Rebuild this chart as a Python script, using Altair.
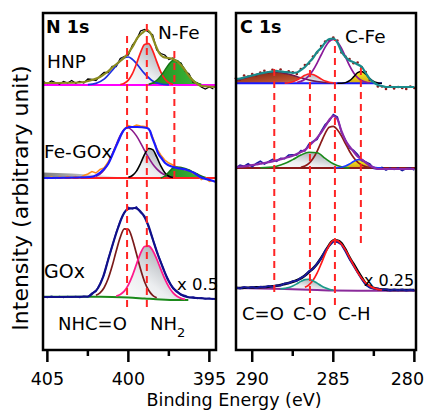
import altair as alt
import pandas as pd

FONT = "DejaVu Sans"

# ---------------- N 1s panel (binding energy, eV) ----------------
N_E = [405.25, 405.0, 404.75, 404.5, 404.25, 404.0, 403.75, 403.5, 403.25, 403.0, 402.75,
       402.5, 402.25, 402.0, 401.75, 401.5, 401.25, 401.0, 400.75, 400.5, 400.25, 400.0,
       399.75, 399.5, 399.25, 399.0, 398.75, 398.5, 398.25, 398.0, 397.75, 397.5, 397.25,
       397.0, 396.75, 396.5, 396.25, 396.0, 395.75, 395.5, 395.25, 395.0, 394.75]
N_TICKS = [405, 400, 395]
N_MINOR = [402.5, 397.5]
N_EDGE = [405.27, 394.59]

# HNP
N_HNP_DATA = [268.5, 266.5, 269, 267.5, 266, 268.5, 267, 269.5, 266.8, 268.5, 267, 271, 270.5,
              269.5, 274, 277.5, 277.5, 283.5, 283.5, 291.5, 293.5, 295, 305, 310, 319, 320.5,
              318, 315, 300, 296.5, 295, 290.5, 292, 288, 287, 279, 276, 267.5, 267, 263, 261,
              263, 261]
N_HNP_FIT_E = [405.27, 403.0, 402.35, 401.75, 401.3, 400.95, 400.5, 400.1, 399.75, 399.45,
               399.15, 398.85, 398.6, 398.35, 398.1, 397.85, 397.55, 397.25, 396.95, 396.6,
               396.3, 396.05, 395.75, 395.45, 394.59]
N_HNP_FIT = [267, 267.5, 269.5, 273, 278, 283, 289, 295, 303, 312, 317, 320, 316, 306, 297,
             293, 292, 291, 288, 282, 275, 270, 266, 264, 263]
N_HNP_BASE = [265, 265]
N_HNP_P1_E = [402.5, 402.0, 401.5, 401.0, 400.5, 400.25, 400.0, 399.75, 399.5, 399.0, 398.5,
              398.0, 397.5]
N_HNP_P1 = [265.3, 266.6, 270.8, 279.5, 289.4, 292.4, 293.0, 290.7, 286.5, 276.3, 269.0,
            266.0, 265.2]
N_HNP_P2_E = [400.5, 400.25, 400.0, 399.75, 399.5, 399.25, 399.0, 398.75, 398.5, 398.25,
              398.0, 397.75, 397.5, 397.25]
N_HNP_P2 = [265.5, 266.8, 269.9, 276.3, 286.2, 297.4, 305.5, 306.3, 299.4, 288.4, 278.1,
            270.9, 267.2, 265.7]
N_HNP_P3_E = [398.75, 398.5, 398.25, 398.0, 397.75, 397.5, 397.25, 397.0, 396.75, 396.5,
              396.25, 396.0, 395.75, 395.5]
N_HNP_P3 = [265.8, 267, 269.7, 274.1, 279.8, 285.7, 289.5, 289.5, 285.9, 280.1, 274.3, 269.8,
            267.1, 265.8]

# Fe-GOx
N_FE_DATA = [172.5, 171.5, 173, 171.5, 173, 172, 173.5, 172, 173.5, 172, 174.5, 176, 178.5,
             177, 180.5, 182, 188, 196, 205, 213, 221, 224.5, 223, 225, 224, 223.5, 221.5,
             213, 201.5, 195, 190, 187, 185, 182.5, 182.5, 180, 180, 176.5, 176, 170.5, 172.5,
             168.5, 169.5]
N_FE_FIT_E = [405.27, 402.36, 401.56, 401.25, 400.94, 400.64, 400.39, 400.02, 399.46, 398.85,
              398.66, 398.54, 398.35, 398.17, 397.92, 397.73, 397.24, 396.81, 396.38, 395.94,
              395.57, 394.96, 394.59]
N_FE_FIT = [172, 173, 180, 186, 197, 208, 217, 223, 223, 222, 219, 213, 205, 197, 191, 187,
            183, 181.5, 180, 177, 173, 170, 168]
N_FE_BASE = [172, 172]
N_FE_P1_E = [402.0, 401.75, 401.5, 401.25, 401.0, 400.75, 400.5, 400.25, 400.0, 399.75, 399.5,
             399.25, 399.0, 398.75, 398.5, 398.25, 398.0, 397.75, 397.5, 397.25]
N_FE_P1 = [173.7, 175.9, 179.9, 186.3, 195.1, 205.2, 214.6, 220.7, 222, 219.3, 214.1, 207.2,
           199.6, 192.3, 186, 181.1, 177.5, 175.1, 173.7, 172.8]
N_FE_P2_E = [400.0, 399.75, 399.5, 399.25, 399.0, 398.75, 398.5, 398.25, 398.0, 397.75, 397.5,
             397.25]
N_FE_P2 = [172.7, 174.5, 178.9, 186.5, 195.6, 201.5, 200.4, 193.1, 184.1, 177.3, 173.8, 172.5]
N_FE_P3_E = [398.0, 397.75, 397.5, 397.25, 397.0, 396.75, 396.5, 396.25, 396.0, 395.75, 395.5,
             395.25]
N_FE_P3 = [172, 174, 178, 182, 183, 182.5, 181.5, 180, 178, 176, 174, 172.5]
N_FE_TAIL_E = [405.27, 403.5, 402.0, 400.9, 400.2]
N_FE_TAIL = [177.5, 176.5, 175, 173.5, 172]

# GOx
N_GO_DATA = [53.5, 52.5, 53.8, 52.7, 53.5, 52.5, 53.6, 52.8, 53.5, 52.6, 53.8, 53, 56.8, 58.5,
             66.5, 75.5, 90.8, 103.5, 117.5, 129, 137.5, 142.5, 141, 143, 137.5, 134, 123,
             111.5, 98.5, 88.5, 77.5, 69.5, 61.5, 59, 55, 54.5, 52.5, 53, 51.5, 52.3, 51, 51.8,
             50.6]
N_GO_FIT_E = [405.27, 402.49, 402.18, 401.87, 401.56, 401.25, 400.94, 400.64, 400.33, 400.02,
              399.59, 399.28, 398.97, 398.78, 398.48, 398.17, 397.86, 397.55, 397.24, 396.81,
              396.38, 395.76, 394.59]
N_GO_FIT = [53, 53.5, 57, 62, 73, 90, 107, 122, 135, 141, 142, 139, 132, 125, 110, 95, 82, 70,
            62, 56, 53, 52, 51]
N_GO_BASE_E = [405.27, 402.0, 401.0, 400.0, 399.0, 398.0, 397.0, 396.3]
N_GO_BASE = [53.3, 53.2, 53.0, 52.5, 51.5, 50.5, 50.0, 50.0]
N_GO_P1_E = [402.0, 401.75, 401.5, 401.25, 401.0, 400.75, 400.5, 400.25, 400.0, 399.75, 399.5,
             399.25, 399.0, 398.75, 398.5, 398.25]
N_GO_P1 = [54.7, 57.2, 62.3, 71.2, 83.9, 99, 112.8, 121.2, 120.6, 110.8, 96.2, 81, 68.3, 59.7,
           54.7, 52.3]
N_GO_P2_E = [400.75, 400.5, 400.25, 400.0, 399.75, 399.5, 399.25, 399.0, 398.75, 398.5, 398.25,
             398.0, 397.75, 397.5, 397.25, 397.0, 396.75, 396.5]
N_GO_P2 = [54.0, 55.6, 58.9, 65.2, 74.4, 85.7, 96.6, 103.5, 104.0, 99.5, 91.0, 80.8, 71.1,
           63.1, 57.3, 53.7, 51.7, 50.7]
N_GO_P2_BASE = [52.9, 52.75, 52.6, 52.5, 52.25, 52.0, 51.75, 51.5, 51.25, 51.0, 50.75, 50.5,
                50.4, 50.25, 50.1, 50.0, 50.0, 50.0]

N_DASH_E = [400.08, 398.86, 397.16]
N_DASH_LO = [43, 43, 172]
N_DASH_HI = [317, 327, 303]

# ---------------- C 1s panel ----------------
C_E = [291.0, 290.75, 290.5, 290.25, 290.0, 289.75, 289.5, 289.25, 289.0, 288.75, 288.5,
       288.25, 288.0, 287.75, 287.5, 287.25, 287.0, 286.75, 286.5, 286.25, 286.0, 285.75,
       285.5, 285.25, 285.0, 284.75, 284.5, 284.25, 284.0, 283.75, 283.5, 283.25, 283.0,
       282.75, 282.5, 282.25, 282.0, 281.75, 281.5, 281.25, 281.0, 280.75, 280.5, 280.25, 280.0]
C_TICKS = [290, 285, 280]
C_MINOR = [287.5, 282.5]
C_EDGE = [291.0, 279.9]

# HNP
C_HNP_DATA = [271.8, 270.5, 274.5, 273.5, 276, 274.5, 277.5, 279.3, 277.5, 280.2, 279, 280.5,
              277, 278.7, 277.7, 276, 281, 285, 286.5, 293.5, 297.5, 304, 308.5, 309.5, 312.5,
              309.5, 297.5, 293.5, 291, 286.8, 287.5, 282.7, 278, 270, 268, 263.5, 263.5, 261,
              264, 261.5, 263, 262, 261, 263.5, 262]
C_HNP_FIT = [270.8, 271.5, 272.5, 273.5, 274.5, 275.5, 276.5, 277.3, 278, 278.7, 279, 278.5,
             278, 277.7, 277.2, 277.5, 280, 283, 287.5, 292, 298, 302, 307.5, 311, 311.5, 307.5,
             298.5, 293, 289.5, 287.8, 285.5, 283.2, 277, 271, 267.5, 265, 264, 263, 263, 263,
             263, 263, 263, 263, 263]
C_HNP_BASE_E = [291.0, 282.0]
C_HNP_BASE = [266.7, 266.7]
C_HNP_CO2_E = [291.0, 290.5, 290.0, 289.5, 289.0, 288.5, 288.0, 287.5, 287.0, 286.5, 286.0,
               285.5, 285.0]
C_HNP_CO2 = [269.7, 271.7, 274.2, 276.4, 277.7, 277.9, 276.7, 274.7, 272.2, 270.0, 268.4,
             267.4, 266.9]
C_HNP_CO_E = [288.0, 287.75, 287.5, 287.25, 287.0, 286.75, 286.5, 286.25, 286.0, 285.75, 285.5,
              285.25, 285.0]
C_HNP_CO = [266.9, 267.3, 268.2, 269.9, 272.3, 274.7, 276, 275.5, 273.5, 271, 268.9, 267.7,
            267.1]
C_HNP_CH_E = [287.25, 287.0, 286.75, 286.5, 286.25, 286.0, 285.75, 285.5, 285.25, 285.0,
              284.75, 284.5, 284.25, 284.0, 283.75, 283.5, 283.25, 283.0, 282.75]
C_HNP_CH = [267.5, 268.6, 270.7, 274.3, 279.7, 286.9, 295, 302.9, 308.6, 310.7, 308.3, 301.8,
            293.1, 284.4, 277.3, 272.4, 269.4, 267.9, 267.1]
C_HNP_FE_E = [284.75, 284.5, 284.25, 284.0, 283.75, 283.5, 283.25, 283.0, 282.75, 282.5,
              282.25, 282.0]
C_HNP_FE = [266.7, 266.8, 267.4, 269.3, 273.1, 277.3, 278.6, 275.8, 271.4, 268.3, 267.1, 266.7]

# Fe-GOx
C_FE_DATA = [182, 184.8, 183.7, 186.2, 183.3, 186.5, 188.8, 186, 188.3, 190.6, 188.6, 191.7,
             191.3, 195, 195.3, 195, 199.5, 199, 206, 208.5, 210.5, 218.5, 225.5, 229, 235.5,
             233, 218, 210, 202, 199.5, 195.5, 189.5, 188, 186, 181.5, 181, 182.5, 180, 182,
             180.5, 182, 179.5, 181.5, 182, 180]
C_FE_FIT = [183, 183.3, 183.7, 184.2, 184.8, 185.5, 186.3, 187, 187.8, 188.6, 189.6, 190.7,
            191.8, 193, 194.3, 196, 198, 200, 204, 208, 212, 217.5, 223.5, 230, 234, 231, 219,
            209.5, 203.5, 198.5, 193.5, 190.5, 187.5, 184.5, 182.5, 181, 181, 181, 181, 181,
            181, 181, 181, 181, 181]
C_FE_BASE = [182, 182]
C_FE_CH_E = [287.0, 286.75, 286.5, 286.25, 286.0, 285.75, 285.5, 285.25, 285.0, 284.75, 284.5,
             284.25, 284.0, 283.75, 283.5, 283.25, 283.0, 282.75]
C_FE_CH = [182.7, 184, 186.7, 191.5, 198.7, 207.8, 216.7, 222.7, 223.7, 220.3, 214.1, 206.4,
           198.8, 192.5, 187.9, 185, 183.4, 182.6]
C_FE_CO_E = [289.5, 289.0, 288.5, 288.0, 287.5, 287.0, 286.5, 286.0, 285.5, 285.0, 284.5,
             284.25, 284.0]
C_FE_CO = [182.2, 182.6, 183.8, 186.4, 190.4, 194.9, 197.7, 197.3, 191.6, 186.2, 183.2, 182.4,
           182]
C_FE_FE_E = [285.0, 284.75, 284.5, 284.25, 284.0, 283.75, 283.5, 283.25, 283.0, 282.75, 282.5,
             282.25, 282.0]
C_FE_FE = [182, 182.2, 182.8, 183.9, 186, 188.5, 190.3, 190.4, 187.6, 184.3, 182.6, 182.1, 182]

# GOx
C_GO_DATA = [62.5, 61.5, 62.9, 62, 62.9, 62.1, 63.3, 62.8, 63.9, 63.2, 64.5, 64.6, 66.6, 66.7,
             68.8, 69.3, 72.1, 74.2, 78.6, 81.1, 86.5, 91.5, 99.1, 104.2, 108.5, 108, 105.5,
             98.7, 91, 84.2, 77.5, 71, 65.3, 62.5, 61.2, 61.5, 60, 60.7, 59.6, 60.5, 59.7, 60.4,
             59.5, 60.3, 59.6]
C_GO_FIT = [62, 62, 62.2, 62.3, 62.5, 62.7, 62.8, 63, 63.3, 63.7, 64.2, 65, 66, 67, 68.3, 69.8,
            71.7, 74.5, 78, 81.5, 86, 92, 98.5, 105, 109.5, 109.5, 107, 100.5, 92.5, 86, 79,
            72.5, 66.5, 63.5, 62, 61, 60.5, 60.3, 60, 60, 60, 60, 60, 60, 60]
C_GO_BASE_E = [291.0, 288.0, 286.0, 285.0, 283.5, 279.9]
C_GO_BASE = [62, 61, 60, 59.5, 59.3, 59.3]
C_GO_CH_E = [286.75, 286.5, 286.25, 286.0, 285.75, 285.5, 285.25, 285.0, 284.75, 284.5, 284.25,
             284.0, 283.75, 283.5, 283.25, 283.0, 282.75, 282.5, 282.25, 282.0]
C_GO_CH = [62.7, 65.15, 69.7, 76.8, 86.1, 96.2, 104.8, 109.5, 109.35, 105.9, 100.1, 92.65,
           84.9, 77.8, 71.8, 67.2, 64, 61.9, 60.7, 60]
C_GO_CO_E = [288.25, 288.0, 287.75, 287.5, 287.25, 287.0, 286.75, 286.5, 286.25, 286.0, 285.75,
             285.5, 285.25, 285.0]
C_GO_CO = [61.1, 61.6, 62.4, 64.05, 66.2, 68.6, 70.4, 70.75, 69.3, 66.9, 64.3, 62.2, 60.7, 59.9]
C_GO_CO_BASE = [60.9, 60.9, 60.8, 60.75, 60.6, 60.5, 60.4, 60.25, 60.1, 60.0, 59.9, 59.8, 59.6,
                59.5]

C_DASH_E = [288.64, 286.44, 284.9, 283.3]
C_DASH_LO = [58, 45, 45, 107]
C_DASH_HI = [285, 283, 310, 287]

# ---------------- styling helpers ----------------
YS = alt.Scale(domain=[0, 337], nice=False, zero=False)
LX = alt.Scale(domain=[405.27, 394.59], range=[0, 173], nice=False, zero=False)
RX = alt.Scale(domain=[291.0, 279.9], range=[193, 373], nice=False, zero=False)
ONE = pd.DataFrame({"k": [0]})


def stop(c, o):
    return alt.GradientStop(color=c, offset=o)


GREY = alt.LinearGradient(gradient="linear", stops=[stop("#8a9098", 0), stop("#eceef0", 0.6),
                                                    stop("#ffffff", 1)], x1=1, y1=0, x2=0, y2=1)
GREEN = alt.LinearGradient(gradient="linear", stops=[stop("#1e8c1e", 0), stop("#3cba3c", 1)],
                           x1=0, y1=0, x2=1, y2=0)
YELLOW = alt.LinearGradient(gradient="linear", stops=[stop("#f8f020", 0), stop("#d4a814", 1)],
                            x1=0, y1=0, x2=0, y2=1)
BROWN = alt.LinearGradient(gradient="linear", stops=[stop("#7a1e10", 0), stop("#b8502c", 0.6),
                                                     stop("#dc9c78", 1)], x1=0, y1=0, x2=1, y2=1)
WEDGE = alt.LinearGradient(gradient="linear", stops=[stop("#7c7c7c", 0), stop("#ffffff", 1)],
                           x1=0, y1=0, x2=1, y2=0)


def xenc(sx):
    return alt.X("E:Q", scale=sx, axis=None)


def line(E, h, color, w, sx, interp="monotone"):
    df = pd.DataFrame({"E": E, "h": h})
    return alt.Chart(df).mark_line(color=color, strokeWidth=w, interpolate=interp).encode(
        x=xenc(sx), y=alt.Y("h:Q", scale=YS, axis=None))


def area(E, top, bottom, fill, sx):
    df = pd.DataFrame({"E": E, "top": top, "bot": bottom})
    return alt.Chart(df).mark_area(color=fill, interpolate="monotone", opacity=1).encode(
        x=xenc(sx), y=alt.Y("top:Q", scale=YS, axis=None), y2="bot:Q")


def dots(E, h, color, sx):
    df = pd.DataFrame({"E": E, "h": h})
    return alt.Chart(df).mark_circle(color=color, size=7, opacity=1).encode(
        x=xenc(sx), y=alt.Y("h:Q", scale=YS, axis=None))


def dashes(E, lo, hi, sx):
    df = pd.DataFrame({"E": E, "lo": lo, "hi": hi})
    return alt.Chart(df).mark_rule(color="#ff2424", strokeWidth=2, strokeDash=[7, 5]).encode(
        x=xenc(sx), y=alt.Y("lo:Q", scale=YS, axis=None), y2="hi:Q")


def txt(s, x, y, size=18, weight="normal", align="left", angle=0, baseline="alphabetic"):
    return alt.Chart(ONE).mark_text(text=s, align=align, baseline=baseline, font=FONT,
                                    fontSize=size, fontWeight=weight, color="black",
                                    angle=angle).encode(x=alt.value(x), y=alt.value(y))


def frame(x0, x1):
    return alt.Chart(ONE).mark_rect(fillOpacity=0, stroke="black", strokeWidth=2.5).encode(
        x=alt.value(x0), x2=alt.value(x1), y=alt.value(0), y2=alt.value(337))


def ticks(vals, sx, length):
    df = pd.DataFrame({"E": vals})
    return alt.Chart(df).mark_rule(color="black", strokeWidth=2.5).encode(
        x=xenc(sx), y=alt.value(337), y2=alt.value(337 + length))


def tick_labels(vals, sx, dx=0):
    df = pd.DataFrame({"E": vals, "lab": [str(v) for v in vals]})
    return alt.Chart(df).mark_text(font=FONT, fontSize=17.5, color="black", align="center",
                                   baseline="alphabetic", dx=dx).encode(
        x=xenc(sx), y=alt.value(372), text="lab:N")


n = len
left = [
    # HNP
    area(N_HNP_P2_E, N_HNP_P2, [265] * n(N_HNP_P2), GREY, LX),
    area(N_HNP_P3_E, N_HNP_P3, [265] * n(N_HNP_P3), GREEN, LX),
    line(N_EDGE, N_HNP_BASE, "#ff00ff", 2, LX),
    line(N_E, N_HNP_DATA, "black", 1.3, LX, interp="linear"),
    line(N_HNP_P1_E, N_HNP_P1, "#1f2fe0", 1.7, LX),
    line(N_HNP_P2_E, N_HNP_P2, "#ff1f1f", 1.7, LX),
    line(N_HNP_P3_E, N_HNP_P3, "#137313", 1.4, LX),
    line(N_HNP_FIT_E, N_HNP_FIT, "#8c8c1e", 2.2, LX),
    # Fe-GOx
    area(N_FE_TAIL_E, N_FE_TAIL, [172] * n(N_FE_TAIL), WEDGE, LX),
    area(N_FE_P2_E, N_FE_P2, [172] * n(N_FE_P2), GREY, LX),
    area(N_FE_P3_E, N_FE_P3, [172] * n(N_FE_P3), GREEN, LX),
    line(N_EDGE, N_FE_BASE, "#ff2020", 2, LX),
    line(N_E, N_FE_DATA, "#ff8c1a", 1.5, LX, interp="linear"),
    line(N_FE_P1_E, N_FE_P1, "#8b1a8b", 1.6, LX),
    line(N_FE_P2_E, N_FE_P2, "black", 1.6, LX),
    line(N_FE_P3_E, N_FE_P3, "#137313", 1.4, LX),
    line(N_FE_FIT_E, N_FE_FIT, "#1a1aff", 2.2, LX),
    # GOx
    area(N_GO_P2_E, N_GO_P2, N_GO_P2_BASE, GREY, LX),
    line(N_GO_BASE_E, N_GO_BASE, "#1a8a1a", 2, LX),
    line(N_E, N_GO_DATA, "#2020a0", 1.5, LX, interp="linear"),
    line(N_GO_P1_E, N_GO_P1, "#7a1a1a", 1.7, LX),
    line(N_GO_P2_E, N_GO_P2, "#ff1a8c", 1.8, LX),
    line(N_GO_FIT_E, N_GO_FIT, "#10108a", 2.2, LX),
    dashes(N_DASH_E, N_DASH_LO, N_DASH_HI, LX),
    frame(0, 173),
    ticks(N_TICKS, LX, 12),
    ticks(N_MINOR, LX, 6),
    tick_labels(N_TICKS, LX),
    txt("N 1s", 3, 20, 17.5, "bold"),
    txt("HNP", 4, 55, 18.5),
    txt("N-Fe", 115, 26, 18.5),
    txt("Fe-GOx", 1, 145, 18.5),
    txt("GOx", 1, 265, 19),
    txt("x 0.5", 134, 277, 16.5),
    txt("NHC=O", 15, 317, 18),
    txt("NH", 107, 317, 18),
    txt("2", 134, 324, 13),
    txt("Intensity (arbitrary unit)", -22, 185, 22, align="center", angle=270,
        baseline="middle"),
]

right = [
    # HNP
    area(C_HNP_CO2_E, C_HNP_CO2, [266.7] * n(C_HNP_CO2), BROWN, RX),
    area(C_HNP_CO_E, C_HNP_CO, [266.7] * n(C_HNP_CO), GREY, RX),
    area(C_HNP_FE_E, C_HNP_FE, [266.7] * n(C_HNP_FE), YELLOW, RX),
    line(C_HNP_BASE_E, C_HNP_BASE, "#1a1aff", 2, RX),
    dots(C_E, C_HNP_DATA, "#8b1a1a", RX),
    line(C_HNP_CO2_E, C_HNP_CO2, "#6a1a50", 1.5, RX),
    line(C_HNP_CO_E, C_HNP_CO, "#ff2020", 1.6, RX),
    line(C_HNP_CH_E, C_HNP_CH, "#8a1a9a", 1.7, RX),
    line(C_HNP_FE_E, C_HNP_FE, "black", 1.5, RX),
    line(C_E, C_HNP_FIT, "#1a8a8a", 2.2, RX),
    # Fe-GOx
    area(C_FE_CO_E, C_FE_CO, [182] * n(C_FE_CO), GREY, RX),
    area(C_FE_FE_E, C_FE_FE, [182] * n(C_FE_FE), YELLOW, RX),
    line(C_EDGE, C_FE_BASE, "#8b1a1a", 2, RX),
    line(C_E, C_FE_DATA, "#1a1aa0", 1.6, RX, interp="linear"),
    line(C_FE_CH_E, C_FE_CH, "#8b1a1a", 1.7, RX),
    line(C_FE_CO_E, C_FE_CO, "#1a8a1a", 1.6, RX),
    line(C_FE_FE_E, C_FE_FE, "#1a3aff", 1.6, RX),
    line(C_E, C_FE_FIT, "#8a2aaa", 2.2, RX),
    # GOx
    area(C_GO_CO_E, C_GO_CO, C_GO_CO_BASE, GREY, RX),
    line(C_GO_BASE_E, C_GO_BASE, "#8a2a9a", 2, RX),
    line(C_E, C_GO_FIT, "black", 2.6, RX),
    line(C_E, C_GO_DATA, "#1a1a9a", 2, RX, interp="linear"),
    line(C_GO_CH_E, C_GO_CH, "#ff1a1a", 1.7, RX),
    line(C_GO_CO_E, C_GO_CO, "#1a9a8a", 1.6, RX),
    dashes(C_DASH_E, C_DASH_LO, C_DASH_HI, RX),
    frame(193, 373),
    ticks(C_TICKS, RX, 12),
    ticks(C_MINOR, RX, 6),
    tick_labels(C_TICKS[:2], RX),
    tick_labels(C_TICKS[2:], RX, dx=-7),
    txt("C 1s", 197, 20, 17.5, "bold"),
    txt("C-Fe", 302, 30, 18.5),
    txt("x 0.25", 321, 273, 16),
    txt("C=O", 199, 307, 18),
    txt("C-O", 250, 307, 18),
    txt("C-H", 295, 307, 18),
    txt("Binding Energy (eV)", 191, 393, 17.5, align="center"),
]

chart = alt.layer(alt.layer(*left), alt.layer(*right)).resolve_scale(
    x="independent").properties(
    width=373, height=337, autosize=alt.AutoSizeParams(type="none"),
    padding={"left": 35, "top": 5, "right": 8, "bottom": 60}
).configure_view(stroke="transparent")

chart.save("out.html", embed_options={"renderer": "svg", "actions": False})
